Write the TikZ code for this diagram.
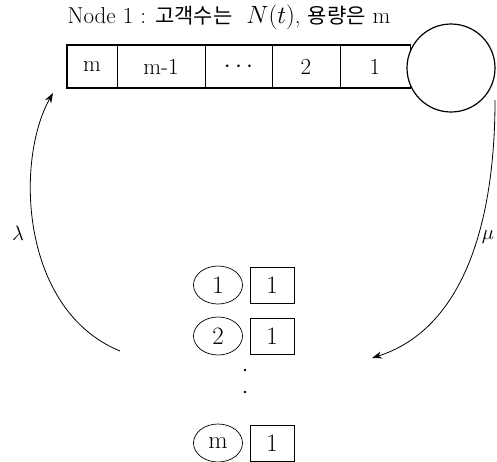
\documentclass[tikz,border=0pt]{standalone}
\usepackage{fontspec}
\usetikzlibrary{arrows.meta,shapes.geometric}
\newfontfamily\kofont{Noto Sans CJK KR}
\begin{document}
\begin{tikzpicture}[x=1pt,y=-1pt,
  cell/.style={draw, line width=0.6pt, minimum height=43pt, inner sep=0pt,
    font=\fontsize{23}{26}\selectfont},
  frame/.style={line width=2pt, line cap=rect},
  server/.style={draw, circle, line width=1.2pt, minimum size=88pt, inner sep=0pt},
  job/.style={draw, ellipse, line width=0.7pt, minimum width=49pt, minimum height=38pt,
    inner sep=0pt, font=\fontsize{25}{28}\selectfont},
  tag/.style={draw, rectangle, line width=0.7pt, minimum width=44pt, minimum height=36pt,
    inner sep=0pt, font=\fontsize{25}{28}\selectfont},
  flow/.style={line width=0.8pt, -{Stealth[length=10pt,width=7pt]}},
  rate/.style={font=\fontsize{20}{22}\selectfont},
  kor/.style={}
]
\useasboundingbox (0,0) rectangle (497,461);

% heading
\node[font=\fontsize{23}{26}\selectfont, inner sep=0pt] (title) at (229,17)
  {Node 1 : {\kofont\fontsize{21}{25}\selectfont 고객수는}\ \ $N(t)$, {\kofont\fontsize{21}{25}\selectfont 용량은} m};

% waiting room of node 1
\node[cell, minimum width=50pt] (qm)   at (92,66.5)  {m};
\node[cell, minimum width=88pt] (qm1)  at (161,66.5) {m-1};
\node[cell, minimum width=67pt] (qdot) at (238.5,66.5) {$\cdots$};
\node[cell, minimum width=68pt] (q2)   at (306,66.5) {2};
\node[cell, minimum width=70pt] (q1)   at (375,66.5) {1};
\draw[frame] (q1.north east) -- (qm.north west) -- (qm.south west) -- (q1.south east);

% server
\node[server, fill=white] (srv) at (451,68) {};

% the m jobs outside the node
\node[job] (j1) at (218,285) {1};
\node[tag] (t1) at (272,285) {1};
\node[job] (j2) at (218,336) {2};
\node[tag] (t2) at (272,336) {1};
\node[job] (jm) at (218,443) {m};
\node[tag] (tm) at (272,443) {1};
\node[circle, fill, inner sep=0pt, minimum size=2.6pt] (d1) at (245,370) {};
\node[circle, fill, inner sep=0pt, minimum size=2.6pt] (d2) at (245,392) {};

% arrival and departure flows
\coordinate (arrS) at (120,351);
\coordinate (arrE) at (53,93);
\coordinate (depS) at (495,100);
\coordinate (depE) at (372,358);
\draw[flow] (arrS) .. controls (20,310) and (15,160) .. (arrE);
\draw[flow] (depS) .. controls (495,230) and (460,330) .. (depE);

\node[rate] (lam) at (18,233) {$\lambda$};
\node[rate, inner sep=0pt] (mu) at (488,237) {$\mu$};
\end{tikzpicture}
\end{document}
